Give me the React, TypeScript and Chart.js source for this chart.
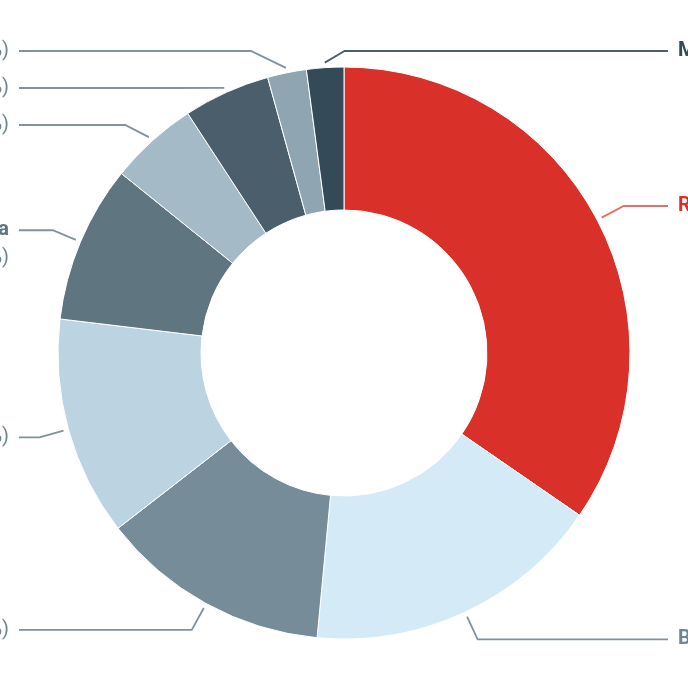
import React, { useEffect, useRef } from "react";
import { Chart, registerables } from "chart.js";

Chart.register(...registerables);

// ---- data ----
const categories = [
  "Russia",
  "Brazil",
  "Norway",
  "Iraq",
  "Saudi Arabia",
  "Nigeria",
  "Algeria",
  "Libya",
  "Mexico",
];
const shares = [34.6, 16.9, 13.0, 12.4, 8.9, 5.0, 4.9, 2.2, 2.1];
const percentLabels = shares.map((v) => `(${v.toFixed(1)}%)`);

// ---- styles ----
const sliceColors = [
  "#d9302a",
  "#d4eaf6",
  "#768d99",
  "#bcd4e1",
  "#5f7580",
  "#a4bbc7",
  "#4a5f6b",
  "#8fa5b1",
  "#344a57",
];
const nameColors = [
  "#d9302a",
  "#6f8794",
  "#5f7580",
  "#6f8794",
  "#5f7580",
  "#6f8794",
  "#4a5f6b",
  "#6f8794",
  "#344a57",
];
const connectorColors = [
  "#e66e68",
  "#7f929d",
  "#7f929d",
  "#7f929d",
  "#7f929d",
  "#7f929d",
  "#7f929d",
  "#7f929d",
  "#4d5f69",
];
const pctColor = "#72868f";
const FONT_FAMILY = "Roboto, 'Noto Sans', sans-serif";

const leaderPlugin = {
  id: "leaders",
  afterDatasetsDraw(chart: any) {
    const ctx: CanvasRenderingContext2D = chart.ctx;
    const meta = chart.getDatasetMeta(0);
    const W: number = chart.width;
    const boldFont = `700 20px ${FONT_FAMILY}`;
    const normFont = `400 20px ${FONT_FAMILY}`;
    const lineH = 28;
    const gap = 37;
    const maxLabelWidth = 170;

    ctx.save();
    const items = meta.data.map((arc: any, i: number) => {
      const p = arc.getProps(["x", "y", "startAngle", "endAngle", "outerRadius"], true);
      const mid = (p.startAngle + p.endAngle) / 2;
      const cos = Math.cos(mid);
      const sin = Math.sin(mid);
      const R = p.outerRadius;
      const right = cos > -0.1;
      ctx.font = boldFont;
      const nw = ctx.measureText(categories[i] + " ").width;
      ctx.font = normFont;
      const pw = ctx.measureText(percentLabels[i]).width;
      const wrap = nw + pw > maxLabelWidth;
      return {
        i,
        cx: p.x,
        cy: p.y,
        R,
        cos,
        sin,
        right,
        wrap,
        ideal: p.y + (R + 30) * sin,
        y: 0,
      };
    });

    [true, false].forEach((side) => {
      const list = items.filter((it: any) => it.right === side).sort((a: any, b: any) => a.ideal - b.ideal);
      let prev: any = null;
      list.forEach((it: any) => {
        const top = it.cy - it.R - 16;
        let y = Math.max(it.ideal, top);
        if (prev) y = Math.max(y, prev.y + gap + (prev.wrap ? lineH : 0));
        it.y = y;
        prev = it;
      });
    });

    items.forEach((it: any) => {
      const s = it.right ? 1 : -1;
      const sx = it.cx + (it.R + 5) * it.cos;
      const sy = it.cy + (it.R + 5) * it.sin;
      const Rc = it.R + 30;
      const dy = it.y - it.cy;
      let ex: number;
      if (s * it.cos < 0 || Math.abs(dy) >= Rc) {
        ex = sx + s * 1.7 * Math.abs(it.y - sy);
      } else {
        ex = it.cx + s * Math.sqrt(Rc * Rc - dy * dy);
      }
      const lineEnd = it.right ? W - 20 : 19;
      ctx.beginPath();
      ctx.strokeStyle = connectorColors[it.i];
      ctx.lineWidth = 1.8;
      ctx.moveTo(sx, sy);
      ctx.lineTo(ex, it.y);
      ctx.lineTo(lineEnd, it.y);
      ctx.stroke();

      ctx.textBaseline = "middle";
      const name = categories[it.i];
      const pct = percentLabels[it.i];
      if (it.right) {
        const tx = W - 10;
        ctx.textAlign = "left";
        ctx.font = boldFont;
        ctx.fillStyle = nameColors[it.i];
        ctx.fillText(name, tx, it.y);
        const nw = ctx.measureText(name + " ").width;
        ctx.font = normFont;
        ctx.fillStyle = pctColor;
        if (it.wrap) ctx.fillText(pct, tx, it.y + lineH);
        else ctx.fillText(pct, tx + nw, it.y);
      } else {
        const tx = 9;
        ctx.textAlign = "right";
        if (it.wrap) {
          ctx.font = boldFont;
          ctx.fillStyle = nameColors[it.i];
          ctx.fillText(name, tx, it.y);
          ctx.font = normFont;
          ctx.fillStyle = pctColor;
          ctx.fillText(pct, tx, it.y + lineH);
        } else {
          ctx.font = normFont;
          ctx.fillStyle = pctColor;
          ctx.fillText(pct, tx, it.y);
          const pw = ctx.measureText(" " + pct).width;
          ctx.font = boldFont;
          ctx.fillStyle = nameColors[it.i];
          ctx.fillText(name, tx - pw, it.y);
        }
      }
    });
    ctx.restore();
  },
};

export default function App() {
  const canvasRef = useRef<HTMLCanvasElement | null>(null);

  useEffect(() => {
    if (!canvasRef.current) return;
    const chart = new Chart(canvasRef.current, {
      type: "doughnut",
      data: {
        labels: categories,
        datasets: [
          {
            data: shares,
            backgroundColor: sliceColors,
            borderColor: "#ffffff",
            borderWidth: 1,
            hoverOffset: 0,
          },
        ],
      },
      options: {
        animation: false,
        responsive: true,
        maintainAspectRatio: false,
        cutout: "50%",
        radius: 286,
        layout: { padding: { top: 18, bottom: 0, left: 0, right: 0 } },
        plugins: {
          legend: { display: false },
          tooltip: { enabled: false },
        },
        events: [],
      },
      plugins: [leaderPlugin],
    });
    return () => chart.destroy();
  }, []);

  return (
    <div
      style={{
        position: "fixed",
        left: 0,
        top: 0,
        width: 688,
        height: 688,
        background: "#ffffff",
      }}
    >
      <canvas ref={canvasRef} />
    </div>
  );
}
